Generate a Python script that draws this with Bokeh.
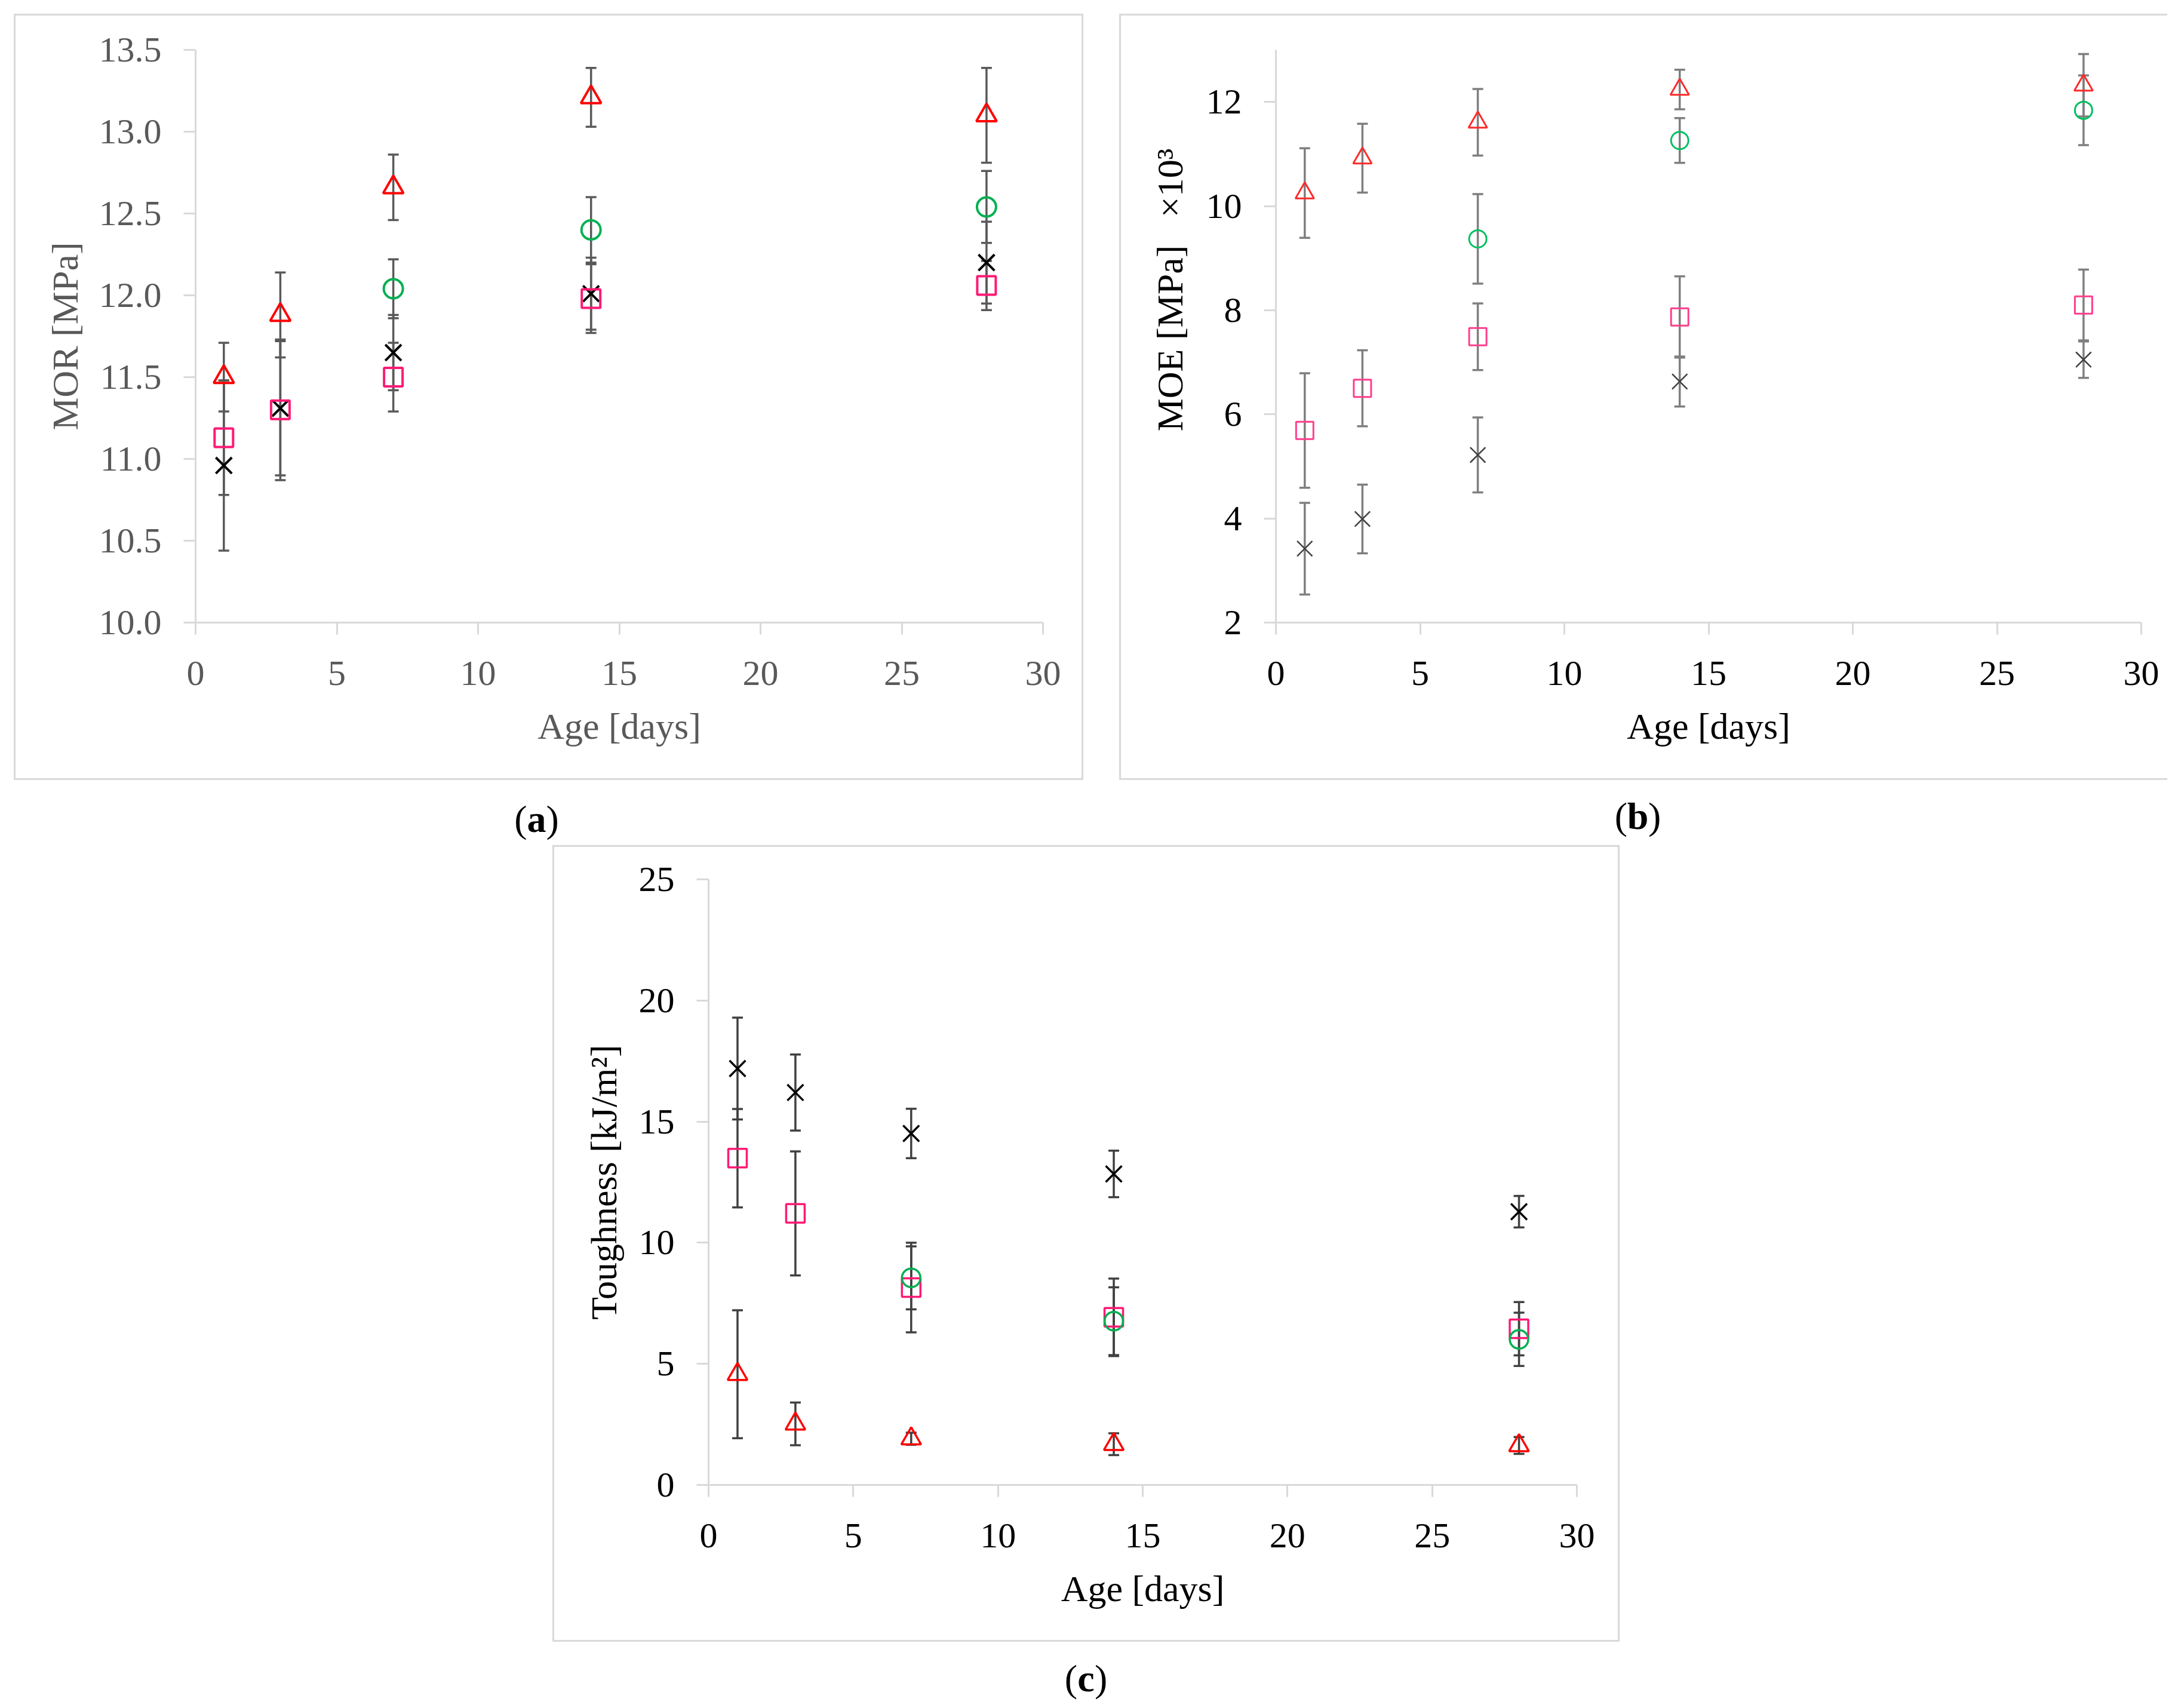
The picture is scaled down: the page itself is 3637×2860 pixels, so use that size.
from bokeh.plotting import figure
from bokeh.layouts import row, column
from bokeh.models import (Range1d, FixedTicker, NumeralTickFormatter, Whisker, TeeHead,
                          ColumnDataSource, Label, Spacer)
from bokeh.embed import file_html
from bokeh.resources import INLINE

# ---------------- data ----------------
days = [1, 3, 7, 14, 28]
days_circ = [7, 14, 28]

# (a) MOR [MPa]
mor_tri = [11.50, 11.88, 12.66, 13.21, 13.10]
mor_tri_err = [0.21, 0.26, 0.20, 0.18, 0.29]
mor_circ = [12.04, 12.40, 12.54]
mor_circ_err = [0.18, 0.20, 0.22]
mor_sq = [11.13, 11.30, 11.50, 11.98, 12.06]
mor_sq_err = [0.35, 0.43, 0.21, 0.21, 0.15]
mor_x = [10.96, 11.31, 11.65, 12.01, 12.20]
mor_x_err = [0.52, 0.41, 0.23, 0.22, 0.25]

# (b) MOE [MPa] x10^3
moe_tri = [10.25, 10.92, 11.61, 12.24, 12.32]
moe_tri_err = [0.86, 0.66, 0.64, 0.38, 0.60]
moe_circ = [9.37, 11.26, 11.84]
moe_circ_err = [0.86, 0.43, 0.67]
moe_sq = [5.69, 6.50, 7.49, 7.87, 8.10]
moe_sq_err = [1.10, 0.73, 0.64, 0.78, 0.68]
moe_x = [3.42, 3.99, 5.22, 6.63, 7.05]
moe_x_err = [0.88, 0.66, 0.72, 0.48, 0.35]

# (c) Toughness [kJ/m2]
tou_tri = [4.57, 2.52, 1.91, 1.68, 1.63]
tou_tri_err = [2.64, 0.88, 0.25, 0.45, 0.35]
tou_circ = [8.55, 6.76, 6.01]
tou_circ_err = [1.30, 1.40, 1.10]
tou_sq = [13.49, 11.21, 8.15, 6.92, 6.45]
tou_sq_err = [2.03, 2.56, 1.85, 1.60, 1.10]
tou_x = [17.19, 16.20, 14.51, 12.84, 11.28]
tou_x_err = [2.10, 1.57, 1.02, 0.96, 0.65]

x_ticks = [0, 5, 10, 15, 20, 25, 30]
mor_ticks = [10, 10.5, 11, 11.5, 12, 12.5, 13, 13.5]
moe_ticks = [2, 4, 6, 8, 10, 12]
tou_ticks = [0, 5, 10, 15, 20, 25]

SERIF = "Liberation Serif"
BOX_GRAY = "#d9d9d9"
NB = "\u00a0"


def make_fig(w, h, left, right, top, bottom, yr, yticks, yfmt, ylabel, txt_color,
             ylab_standoff, styles):
    p = figure(width=w, height=h, x_range=Range1d(0, 30), y_range=Range1d(*yr),
               output_backend="svg", toolbar_location=None,
               min_border_left=left, min_border_right=right,
               min_border_top=top, min_border_bottom=bottom, styles=styles)
    p.outline_line_color = None
    p.grid.visible = False
    for ax in (p.xaxis[0], p.yaxis[0]):
        ax.axis_line_color = BOX_GRAY
        ax.axis_line_width = 3
        ax.major_tick_line_color = BOX_GRAY
        ax.major_tick_line_width = 3
        ax.major_tick_out = 20
        ax.major_tick_in = 0
        ax.minor_tick_line_color = None
        ax.major_label_text_font = SERIF
        ax.major_label_text_font_size = "60px"
        ax.major_label_text_color = txt_color
        ax.axis_label_text_font = SERIF
        ax.axis_label_text_font_size = "62px"
        ax.axis_label_text_font_style = "normal"
        ax.axis_label_text_color = txt_color
    p.xaxis[0].ticker = FixedTicker(ticks=x_ticks)
    p.xaxis[0].axis_label = "Age [days]"
    p.xaxis[0].major_label_standoff = 45
    p.xaxis[0].axis_label_standoff = 32
    p.yaxis[0].ticker = FixedTicker(ticks=yticks)
    p.yaxis[0].formatter = NumeralTickFormatter(format=yfmt)
    p.yaxis[0].axis_label = ylabel
    p.yaxis[0].major_label_standoff = 37
    p.yaxis[0].axis_label_standoff = ylab_standoff
    return p


def add_series(p, x, y, e, marker, color, size, lw, err_color, err_lw):
    src = ColumnDataSource(dict(base=x, upper=[a + b for a, b in zip(y, e)],
                                lower=[a - b for a, b in zip(y, e)]))
    p.add_layout(Whisker(source=src, base="base", upper="upper", lower="lower",
                         line_color=err_color, line_width=err_lw,
                         upper_head=TeeHead(size=18, line_color=err_color, line_width=err_lw),
                         lower_head=TeeHead(size=18, line_color=err_color, line_width=err_lw)))
    p.scatter(x, y, marker=marker, size=size, line_color=color, line_width=lw,
              fill_alpha=0)


def tag_fig(w, h, tags):
    t = figure(width=w, height=h, x_range=Range1d(0, w), y_range=Range1d(0, h),
               x_axis_type=None, y_axis_type=None, output_backend="svg",
               toolbar_location=None, min_border=0)
    t.outline_line_color = None
    t.grid.visible = False
    for cx, cy, letter, wl in tags:
        common = dict(y=h - cy, text_baseline="middle", text_font=SERIF,
                      text_font_size="64px", text_color="black")
        t.add_layout(Label(x=cx - wl / 2, text="(", text_align="right", **common))
        t.add_layout(Label(x=cx, text=letter, text_align="center",
                           text_font_style="bold", **common))
        t.add_layout(Label(x=cx + wl / 2, text=")", text_align="left", **common))
    return t


BORDER = {"border": "3px solid " + BOX_GRAY}

# ---------------- (a) ----------------
pa = make_fig(1791, 1283, 301, 71, 55, 261, (10, 13.5), mor_ticks, "0.0",
              "MOR [MPa]", "#595959", 20, BORDER)
add_series(pa, days, mor_x, mor_x_err, "x", "black", 38, 4, "#595959", 3.5)
add_series(pa, days, mor_sq, mor_sq_err, "square", "#ff1a75", 31, 4, "#595959", 3.5)
add_series(pa, days_circ, mor_circ, mor_circ_err, "circle", "#00b050", 32, 4, "#595959", 3.5)
add_series(pa, days, mor_tri, mor_tri_err, "triangle", "#ff0000", 34, 4, "#595959", 3.5)

# ---------------- (b) ----------------
moe_label = NB * 10 + "MOE [MPa]" + NB * 3 + "×10³"
pb = make_fig(1755, 1283, 259, 47, 57, 267, (2, 13), moe_ticks, "0",
              moe_label, "black", 24,
              {"border": "3px solid " + BOX_GRAY, "border-right": "none"})
add_series(pb, days, moe_x, moe_x_err, "x", "#404040", 36, 2.5, "#7f7f7f", 3.5)
add_series(pb, days, moe_sq, moe_sq_err, "square", "#ff3d8b", 29, 3, "#7f7f7f", 3.5)
add_series(pb, days_circ, moe_circ, moe_circ_err, "circle", "#00c060", 29, 3, "#7f7f7f", 3.5)
add_series(pb, days, moe_tri, moe_tri_err, "triangle", "#ff2a2a", 31, 3, "#7f7f7f", 3.5)

# ---------------- (c) ----------------
pc = make_fig(1787, 1334, 258, 75, 54, 266, (0, 25), tou_ticks, "0",
              "Toughness [kJ/m²]", "black", 22, BORDER)
add_series(pc, days, tou_x, tou_x_err, "x", "black", 38, 3.5, "#404040", 3.5)
add_series(pc, days, tou_sq, tou_sq_err, "square", "#ff1a75", 31, 3.5, "#404040", 3.5)
add_series(pc, days_circ, tou_circ, tou_circ_err, "circle", "#00b050", 31, 3.5, "#404040", 3.5)
add_series(pc, days, tou_tri, tou_tri_err, "triangle", "#ff0000", 33, 3.5, "#404040", 3.5)

tags_top = tag_fig(3629, 107, [(898, 65, "a", 32), (2742, 60, "b", 35)])
tags_bot = tag_fig(3629, 103, [(1818, 61, "c", 29)])

layout = column(
    Spacer(width=3629, height=23),
    row(Spacer(width=23, height=1283), pa, Spacer(width=60, height=1283), pb),
    tags_top,
    Spacer(width=3629, height=2),
    row(Spacer(width=925, height=1334), pc),
    tags_bot,
)
open("out.html", "w").write(file_html(layout, INLINE))
